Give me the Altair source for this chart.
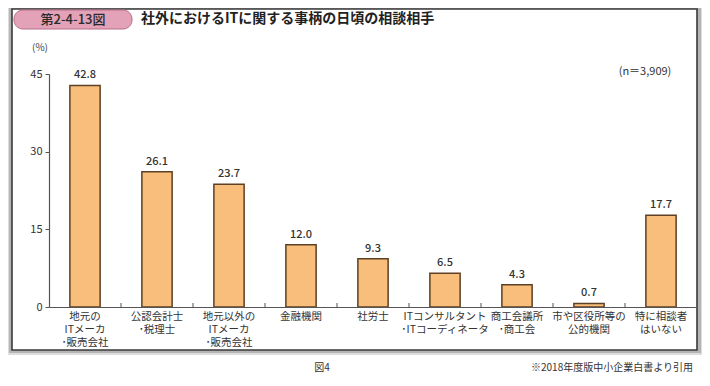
import altair as alt
import pandas as pd

categories = [
    "地元の\nITメーカ\n･販売会社",
    "公認会計士\n･税理士",
    "地元以外の\nITメーカ\n･販売会社",
    "金融機関",
    "社労士",
    "ITコンサルタント\n･ITコーディネータ",
    "商工会議所\n･商工会",
    "市や区役所等の\n公的機関",
    "特に相談者\nはいない",
]
values = [42.8, 26.1, 23.7, 12.0, 9.3, 6.5, 4.3, 0.7, 17.7]
y_ticks = [0, 15, 30, 45]

FONT = "Noto Sans CJK JP"
W, H = 648, 233

df = pd.DataFrame({"cat": categories, "val": values})
one = alt.Data(values=[{}])

xscale = alt.Scale(domain=categories, paddingInner=0, paddingOuter=0)
yscale = alt.Scale(domain=[0, 45], nice=False)

# frame with shadow
shadow1 = alt.Chart(one).mark_rect(color="#dddddd").encode(
    x=alt.value(-43), x2=alt.value(653), y=alt.value(-70), y2=alt.value(281))
shadow2 = alt.Chart(one).mark_rect(color="#b5b5b5").encode(
    x=alt.value(-40), x2=alt.value(652), y=alt.value(-67), y2=alt.value(279))
frame = alt.Chart(one).mark_rect(fill="white", stroke="#3a3a3a", strokeWidth=1.6).encode(
    x=alt.value(-37), x2=alt.value(648), y=alt.value(-65), y2=alt.value(276))

badge = alt.Chart(one).mark_rect(fill="#e3a2b7", stroke="#b86d8a", strokeWidth=1,
                                 cornerRadius=9).encode(
    x=alt.value(-35), x2=alt.value(83), y=alt.value(-64), y2=alt.value(-45))
badge_text = alt.Chart(one).mark_text(text="第2-4-13図", font=FONT, fontSize=13,
                                      fontWeight=500, color="#2a2a2a",
                                      baseline="middle", align="center").encode(
    x=alt.value(24), y=alt.value(-54))
title = alt.Chart(one).mark_text(text="社外におけるITに関する事柄の日頃の相談相手", font=FONT,
                                 fontSize=14, fontWeight="bold", color="#222222",
                                 baseline="middle", align="left").encode(
    x=alt.value(92), y=alt.value(-55))
unit = alt.Chart(one).mark_text(text="(%)", font=FONT, fontSize=10, color="#444444",
                                baseline="middle", align="center").encode(
    x=alt.value(-9), y=alt.value(-26))
nlab = alt.Chart(one).mark_text(text="(n＝3,909)", font=FONT, fontSize=11, color="#333333",
                                baseline="middle", align="center").encode(
    x=alt.value(596), y=alt.value(-2))
fig = alt.Chart(one).mark_text(text="図4", font=FONT, fontSize=10, color="#333333",
                               baseline="middle", align="center").encode(
    x=alt.value(273), y=alt.value(294))
src = alt.Chart(one).mark_text(text="※2018年度版中小企業白書より引用", font=FONT, fontSize=10,
                               color="#333333", baseline="middle", align="right").encode(
    x=alt.value(644), y=alt.value(294))

base = alt.Chart(df)

bars = base.mark_bar(width={"band": 0.42}, fill="#f9be7c", stroke="#5e4024",
                     strokeWidth=1.5).encode(
    x=alt.X("cat:N", scale=xscale, sort=categories,
            axis=alt.Axis(title=None, labelAngle=0, ticks=False, zindex=1,
                          labelExpr="split(datum.label, '\\n')",
                          labelFont=FONT, labelFontSize=10.5, labelColor="#333333",
                          labelLineHeight=13, labelPadding=4, labelBaseline="top",
                          domainColor="#555555", domainWidth=1.2, labelLimit=200)),
    y=alt.Y("val:Q", scale=yscale,
            axis=alt.Axis(title=None, values=y_ticks, grid=False, tickSize=4, zindex=1,
                          tickColor="#555555", domainColor="#555555", domainWidth=1.2,
                          labelFont=FONT, labelFontSize=11, labelColor="#333333",
                          labelPadding=3)),
)

labels = base.mark_text(font=FONT, fontSize=11, fontWeight=500, color="#333333",
                        baseline="bottom", dy=-5).encode(
    x=alt.X("cat:N", scale=xscale, sort=categories),
    y=alt.Y("val:Q", scale=yscale),
    text=alt.Text("val:Q", format=".1f"),
)

ticks = alt.Chart(df.iloc[1:]).mark_rule(color="#555555", strokeWidth=1).encode(
    x=alt.X("cat:N", scale=xscale, sort=categories, bandPosition=0),
    y=alt.value(H - 4), y2=alt.value(H),
)

chart = alt.layer(
    shadow1, shadow2, frame, badge, badge_text, title, unit, nlab, fig, src,
    bars, labels, ticks,
).properties(
    width=W, height=H,
    autosize=alt.AutoSizeParams(type="none"),
    padding={"left": 41, "top": 66, "right": 5, "bottom": 71},
).configure_view(stroke=None)

chart.save("out.html", embed_options={"renderer": "svg", "actions": False})
